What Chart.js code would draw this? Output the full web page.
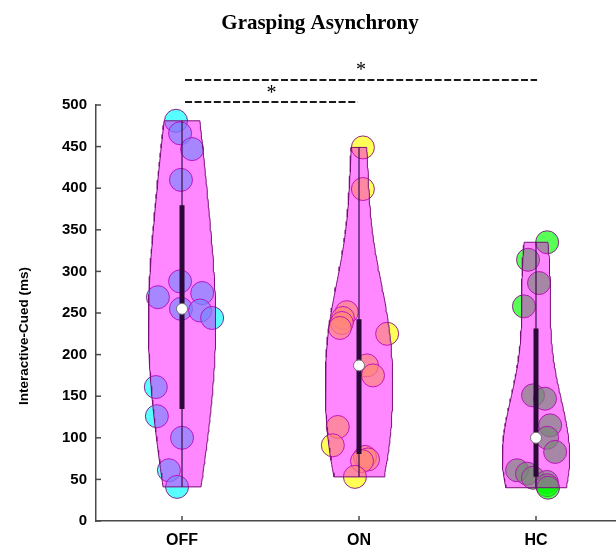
<!DOCTYPE html>
<html>
<head>
<meta charset="utf-8">
<script src="https://cdn.jsdelivr.net/npm/chart.js@4.4.1/dist/chart.umd.min.js"></script>
<style>
  html, body { margin: 0; padding: 0; background: #fff; overflow: hidden; }
</style>
</head>
<body>
<canvas id="violines" width="616" height="547"></canvas>
<script>
// DATOS
const grupos = ["OFF", "ON", "HC"];
const posiciones = [1, 2, 3];

const valoresOff = [481, 466, 447, 410, 288, 274, 269, 255, 253, 244, 161, 126, 100, 61, 41];
const valoresOn = [449, 399, 251, 244, 238, 232, 225, 187, 175, 113, 91, 77, 74, 72, 53];
const valoresHc = [335, 314, 286, 258, 151, 147, 115, 100, 83, 61, 57, 52, 47, 43, 40];

const jitterOff = [-0.034, -0.011, 0.057, -0.006, -0.011, 0.114, -0.136, -0.006, 0.102, 0.170, -0.148, -0.142, 0, -0.074, -0.028];
const jitterOn = [0.022, 0.022, -0.069, -0.091, -0.097, -0.108, 0.159, 0.045, 0.079, -0.120, -0.148, 0.034, 0.051, 0.017, -0.023];
const jitterHc = [0.063, -0.045, 0.017, -0.068, -0.017, 0.051, 0.080, 0.063, 0.108, -0.107, -0.051, -0.017, 0.061, 0.063, 0.068];

const yTicks = [0, 50, 100, 150, 200, 250, 300, 350, 400, 450, 500];

// ancho de banda del kernel por grupo
const bandas = [110, 80, 70];

// comparaciones significativas
const sigDesde = [1.017, 1.017];
const sigHasta = [1.994, 3.006];
const sigNivel = [503.5, 530];
const sigEstrella = [518, 546];
// DATOS END

const coloresPuntos = ["rgba(0,255,255,0.66)", "rgba(255,255,0,0.66)", "rgba(0,255,0,0.66)"];
const anchoViolin = 0.19;

function mediana(arr) {
  const s = [...arr].sort((a, b) => a - b);
  const n = s.length;
  return n % 2 ? s[(n - 1) / 2] : (s[n / 2 - 1] + s[n / 2]) / 2;
}

// percentil estilo matlab
function percentil(arr, p) {
  const s = [...arr].sort((a, b) => a - b);
  const n = s.length;
  const pos = p * n + 0.5;
  if (pos <= 1) return s[0];
  if (pos >= n) return s[n - 1];
  const i = Math.floor(pos);
  const f = pos - i;
  return s[i - 1] + f * (s[i] - s[i - 1]);
}

// contorno del violin con densidad de kernel
function contornoViolin(valores, centro, bw) {
  const min = Math.min(...valores);
  const max = Math.max(...valores);
  const pasos = 80;
  const ys = [];
  const dens = [];
  for (let i = 0; i <= pasos; i++) {
    const y = min + ((max - min) * i) / pasos;
    let d = 0;
    valores.forEach((v) => {
      const u = (y - v) / bw;
      d += Math.exp(-0.5 * u * u);
    });
    ys.push(y);
    dens.push(d);
  }
  const dMax = Math.max(...dens);
  const derecha = ys.map((y, i) => ({ x: centro + (anchoViolin * dens[i]) / dMax, y: y }));
  const izquierda = ys.map((y, i) => ({ x: centro - (anchoViolin * dens[i]) / dMax, y: y })).reverse();
  const puntos = derecha.concat(izquierda);
  puntos.push(derecha[0]);
  return puntos;
}

const todosValores = [valoresOff, valoresOn, valoresHc];
const todosJitter = [jitterOff, jitterOn, jitterHc];

const datasets = [];

todosValores.forEach((valores, g) => {
  const c = posiciones[g];
  datasets.push({
    label: grupos[g] + " puntos",
    data: valores.map((v, i) => ({ x: c + todosJitter[g][i], y: v })),
    backgroundColor: coloresPuntos[g],
    borderColor: "rgba(128,0,128,0.85)",
    borderWidth: 1,
    pointRadius: 11.5,
    order: 5,
    clip: false,
  });
  datasets.push({
    label: grupos[g] + " violin",
    data: contornoViolin(valores, c, bandas[g]),
    showLine: true,
    fill: "shape",
    backgroundColor: "rgba(255,0,255,0.47)",
    borderColor: "#7a0f7a",
    borderWidth: 1,
    pointRadius: 0,
    tension: 0,
    order: 4,
    clip: false,
  });
  datasets.push({
    label: grupos[g] + " rango",
    data: [{ x: c, y: Math.min(...valores) }, { x: c, y: Math.max(...valores) }],
    showLine: true,
    borderColor: "#3a0d4a",
    borderWidth: 1.2,
    pointRadius: 0,
    order: 3,
    clip: false,
  });
  datasets.push({
    label: grupos[g] + " iqr",
    data: [{ x: c, y: percentil(valores, 0.25) }, { x: c, y: percentil(valores, 0.75) }],
    showLine: true,
    borderColor: "#2a0838",
    borderWidth: 5,
    borderCapStyle: "butt",
    pointRadius: 0,
    order: 2,
    clip: false,
  });
  datasets.push({
    label: grupos[g] + " mediana",
    data: [{ x: c, y: mediana(valores) }],
    backgroundColor: "#ffffff",
    borderColor: "#707070",
    borderWidth: 1,
    pointRadius: 5.5,
    order: 1,
    clip: false,
  });
});

sigNivel.forEach((nivel, i) => {
  datasets.push({
    label: "sig " + i,
    data: [{ x: sigDesde[i], y: nivel }, { x: sigHasta[i], y: nivel }],
    showLine: true,
    borderColor: "#1a1a1a",
    borderWidth: 2,
    borderDash: [7, 2.6],
    pointRadius: 0,
    order: 0,
    clip: false,
  });
});

// ticks hacia adentro
const ticksAdentro = {
  id: "ticksAdentro",
  beforeDatasetsDraw(chart) {
    const ctx = chart.ctx;
    const sx = chart.scales.x;
    const sy = chart.scales.y;
    ctx.save();
    ctx.strokeStyle = "#4a4a4a";
    ctx.lineWidth = 1.5;
    yTicks.forEach((t) => {
      const py = sy.getPixelForValue(t);
      ctx.beginPath();
      ctx.moveTo(sx.left, py);
      ctx.lineTo(sx.left + 5, py);
      ctx.stroke();
    });
    posiciones.forEach((p) => {
      const px = sx.getPixelForValue(p);
      ctx.beginPath();
      ctx.moveTo(px, sy.bottom);
      ctx.lineTo(px, sy.bottom - 5);
      ctx.stroke();
    });
    ctx.restore();
  },
};

// textos: titulo, eje y, asteriscos
const textos = {
  id: "textos",
  afterDraw(chart) {
    const ctx = chart.ctx;
    const sx = chart.scales.x;
    const sy = chart.scales.y;
    ctx.save();
    ctx.fillStyle = "#000";
    ctx.textAlign = "center";
    ctx.textBaseline = "alphabetic";
    ctx.font = "bold 21px 'Liberation Serif', 'Times New Roman', serif";
    ctx.fillText("Grasping Asynchrony", 320, 29);

    ctx.font = "20px 'Liberation Serif', 'Times New Roman', serif";
    ctx.textBaseline = "middle";
    sigEstrella.forEach((nivel, i) => {
      const px = sx.getPixelForValue((sigDesde[i] + sigHasta[i]) / 2);
      ctx.fillText("*", px, sy.getPixelForValue(nivel) + 4);
    });

    ctx.translate(24.5, 336);
    ctx.rotate(-Math.PI / 2);
    ctx.font = "bold 13.5px 'Liberation Sans', Arial, sans-serif";
    ctx.fillText("Interactive-Cued (ms)", 0, 0);
    ctx.restore();
  },
};

new Chart(document.getElementById("violines"), {
  type: "scatter",
  data: { datasets: datasets },
  options: {
    responsive: false,
    animation: false,
    events: [],
    layout: { padding: { top: 105, right: 0, bottom: 0, left: 0 }, autoPadding: false },
    plugins: {
      legend: { display: false },
      tooltip: { enabled: false },
      title: { display: false },
    },
    scales: {
      x: {
        type: "linear",
        min: 0.514,
        max: 3.452,
        afterBuildTicks: (s) => {
          s.ticks = posiciones.map((p) => ({ value: p }));
        },
        afterFit: (s) => {
          s.height = 26;
          s.paddingLeft = 0;
          s.paddingRight = 0;
        },
        ticks: {
          callback: (v) => grupos[posiciones.indexOf(v)],
          color: "#000",
          font: { family: "'Liberation Sans', Arial, sans-serif", size: 16, weight: "bold" },
          padding: 10,
          maxRotation: 0,
          autoSkip: false,
        },
        grid: { display: true, drawOnChartArea: false, drawTicks: false },
        border: { display: true, color: "#4a4a4a", width: 1.5 },
      },
      y: {
        type: "linear",
        min: 0,
        max: 500,
        afterBuildTicks: (s) => {
          s.ticks = yTicks.map((t) => ({ value: t }));
        },
        afterFit: (s) => {
          s.width = 96;
          s.paddingTop = 0;
          s.paddingBottom = 0;
        },
        ticks: {
          color: "#000",
          font: { family: "'Liberation Sans', Arial, sans-serif", size: 15, weight: "bold" },
          padding: 9,
        },
        grid: { display: true, drawOnChartArea: false, drawTicks: false },
        border: { display: true, color: "#4a4a4a", width: 1.5 },
      },
    },
  },
  plugins: [ticksAdentro, textos],
});
</script>
</body>
</html>
